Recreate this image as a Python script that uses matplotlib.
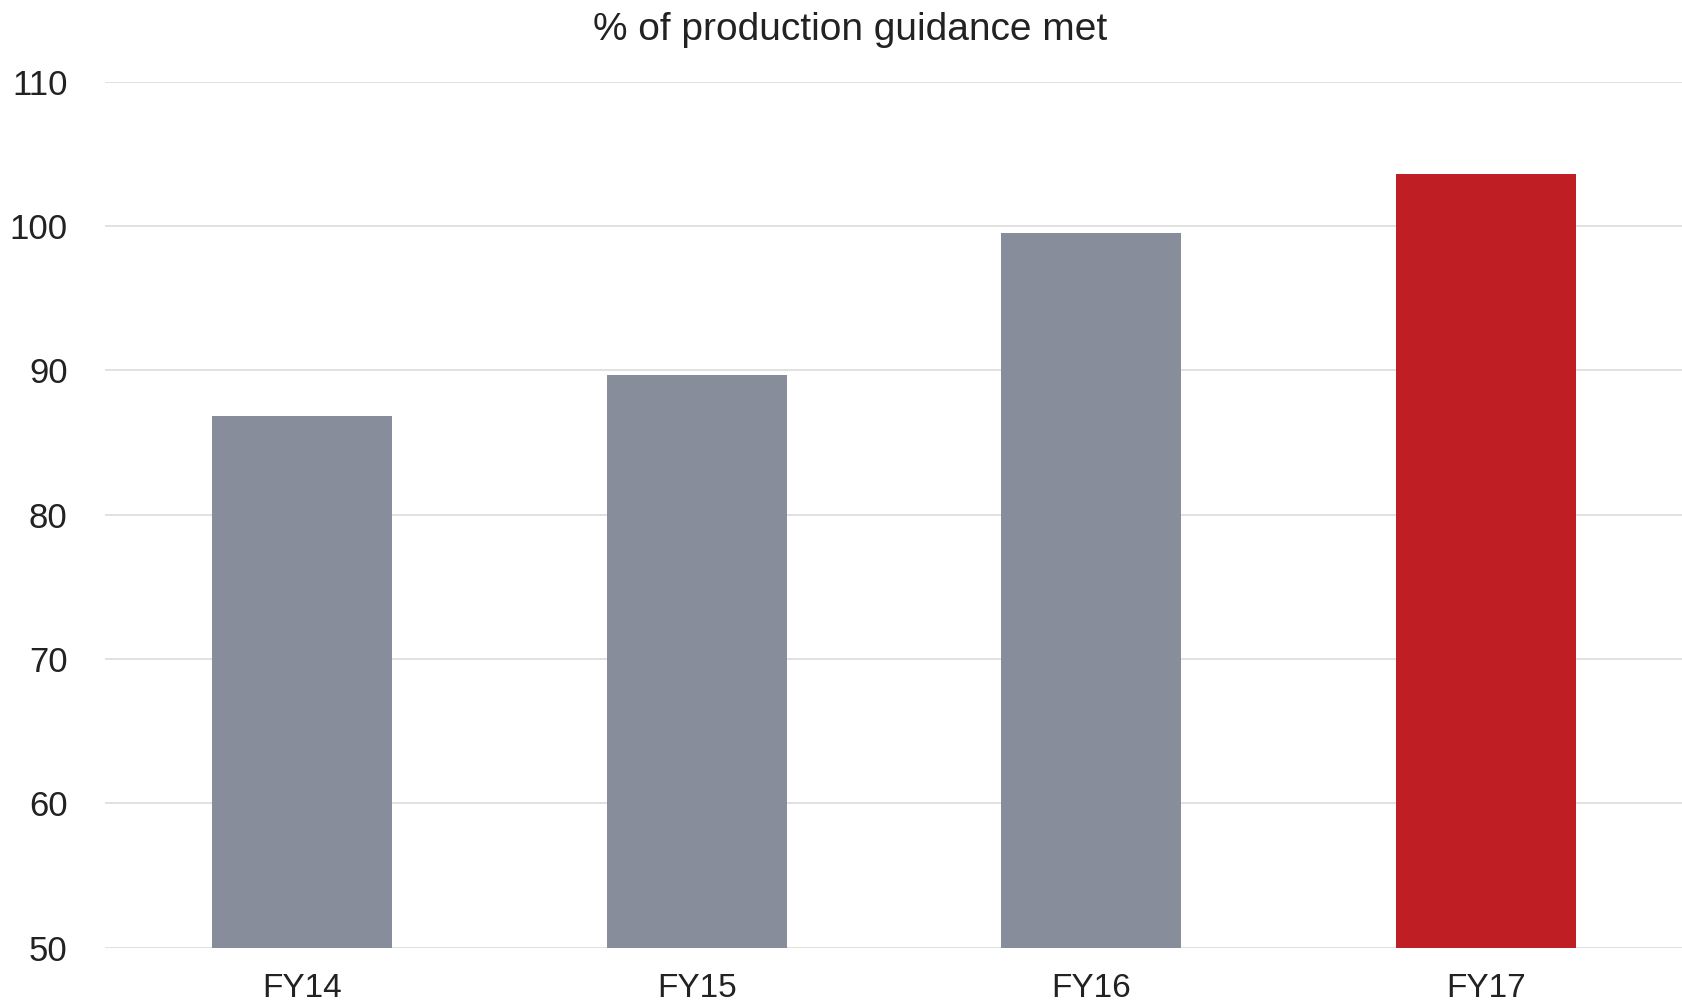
import matplotlib
matplotlib.use("Agg")
import matplotlib.pyplot as plt

categories = ["FY14", "FY15", "FY16", "FY17"]
values = [86.8, 89.7, 99.5, 103.6]
bar_colors = ["#888d9c", "#888d9c", "#888d9c", "#be1e24"]
yticks = [50, 60, 70, 80, 90, 100, 110]
title = "% of production guidance met"

plt.rcParams['font.family'] = ['Liberation Sans', 'DejaVu Sans']

fig = plt.figure(figsize=(16.83, 10.07), dpi=100)
ax = fig.add_axes([0.0624, 0.0589, 0.9376, 0.8601])
x = list(range(len(categories)))
ax.bar(x, values, width=0.456, color=bar_colors, zorder=3)
ax.set_xlim(-0.5, len(categories) - 0.5)
ax.set_ylim(50, 110)
ax.set_yticks(yticks)
ax.set_yticklabels([str(t) for t in yticks])
ax.set_xticks(x)
ax.set_xticklabels(categories)
ax.tick_params(axis='both', length=0, labelcolor="#222222")
ax.tick_params(axis='y', pad=27, labelsize=25)
ax.tick_params(axis='x', pad=18, labelsize=24)
ax.grid(axis='y', color="#dcdcdc", linewidth=1.2, zorder=0)
for s in ax.spines.values():
    s.set_visible(False)
fig.text(0.505, 0.970, title, ha='center', va='center', fontsize=28, color="#222222")
fig.savefig("out.png", dpi=100)
